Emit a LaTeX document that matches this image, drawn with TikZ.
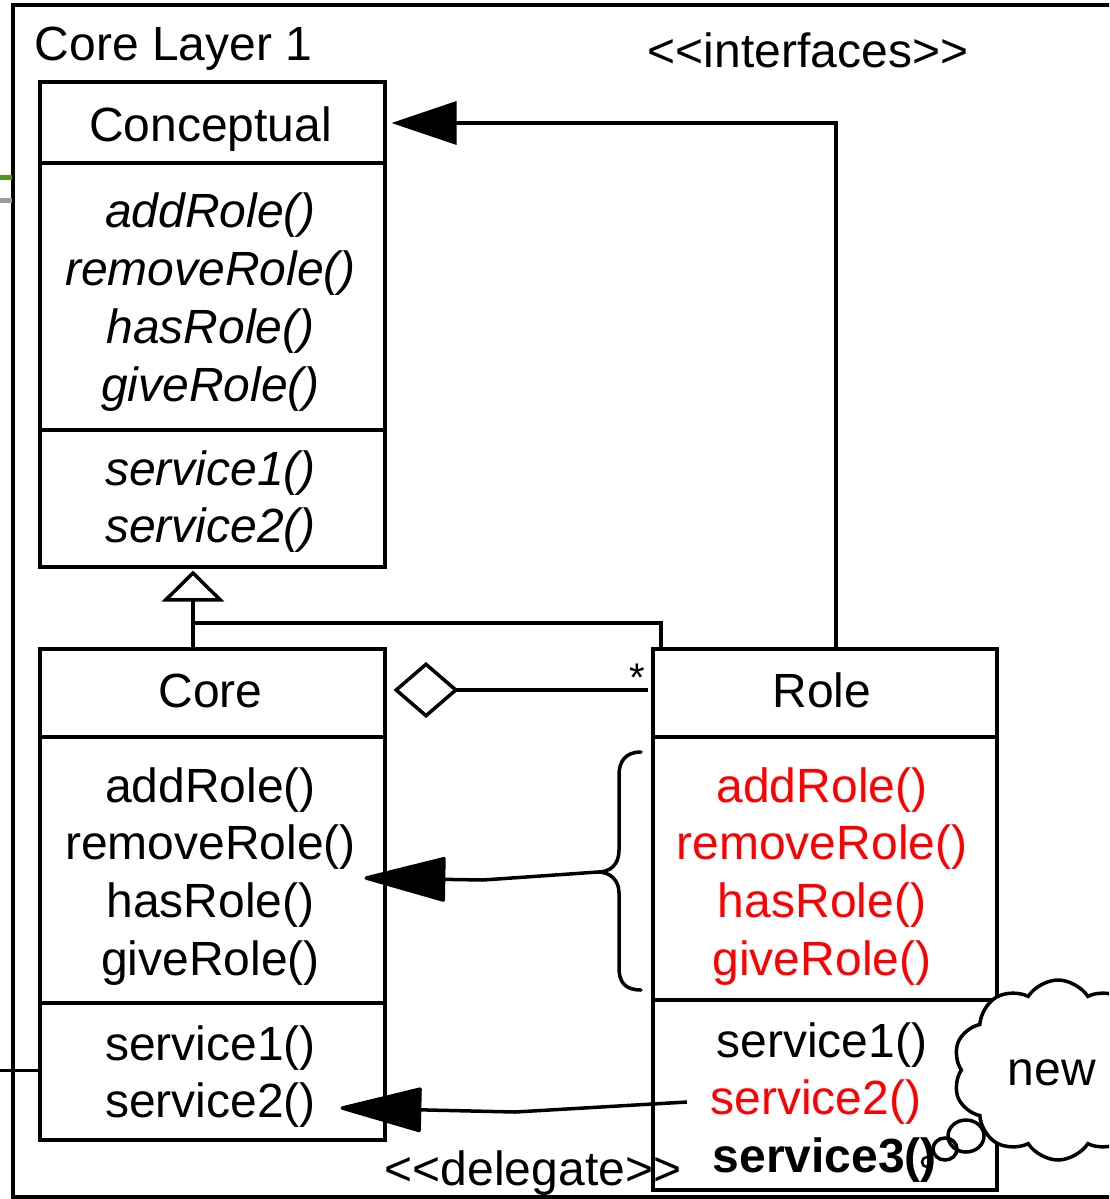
\documentclass[tikz,border=0pt]{standalone}
\usepackage{fontspec}
\setmainfont{Liberation Sans}
\usetikzlibrary{arrows.meta,shapes.symbols,calc}

\definecolor{umlred}{RGB}{255,0,0}
\definecolor{edgegreen}{RGB}{80,150,30}

\begin{document}
\begin{tikzpicture}[x=1pt,y=-1pt,line width=3.5pt,
  txt/.style={inner sep=0pt,text height=34pt,text depth=0pt,font=\fontsize{48}{56}\selectfont},
  op/.style={txt,font=\fontsize{48}{56}\selectfont\itshape},
  rop/.style={txt,text=umlred},
  classbox/.style={draw,line width=3.5pt,inner sep=0pt,anchor=north west,minimum width=345pt},
  filledhead/.style={-{Triangle[length=86pt,width=45pt,round]}},
  ifacehead/.style={-{Triangle[length=65pt,width=43pt]}},
  genhead/.style={-{Triangle[open,length=31pt,width=62pt,fill=white]}},
  agghead/.style={{Diamond[open,length=65pt,width=56pt,fill=white]}-}]
\useasboundingbox (0,0) rectangle (1109,1199);
\clip (0,0) rectangle (1109,1199);

% layer frame (open to the right)
\draw (1130,5) -- (13,5) -- (13,1197) -- (1130,1197);
\draw[edgegreen,line width=5pt] (0,177) -- (12,177);
\draw[gray!80,line width=5pt] (0,200) -- (12,200);

\node[txt,anchor=west] (layer) at (33,43) {Core Layer 1};
\node[txt] (iface) at (808,50) {<{}<interfaces>{}>};
\node[txt] (deleg) at (533,1168) {<{}<delegate>{}>};

% class boxes
\node[classbox,minimum height=485pt] (concept) at (38,80) {};
\node[classbox,minimum height=491pt] (core) at (38,647) {};
\node[classbox,minimum width=344pt,minimum height=541pt] (role) at (651,647) {};

\draw (38,163) -- (383,163);
\draw (38,430) -- (383,430);
\draw (38,737) -- (383,737);
\draw (38,1003) -- (383,1003);
\draw (651,737) -- (995,737);
\draw (651,1000) -- (995,1000);

% Conceptual
\node[txt] (cname) at (210.5,124) {Conceptual};
\node[op] (c1) at (210.5,210) {addRole()};
\node[op] (c2) at (210.5,268) {removeRole()};
\node[op] (c3) at (210.5,326) {hasRole()};
\node[op] (c4) at (210.5,384) {giveRole()};
\node[op] (c5) at (210.5,468) {service1()};
\node[op] (c6) at (210.5,525) {service2()};

% Core
\node[txt] (kname) at (210.5,690) {Core};
\node[txt] (k1) at (210.5,785) {addRole()};
\node[txt] (k2) at (210.5,842) {removeRole()};
\node[txt] (k3) at (210.5,900) {hasRole()};
\node[txt] (k4) at (210.5,958) {giveRole()};
\node[txt] (k5) at (210.5,1043) {service1()};
\node[txt] (k6) at (210.5,1100) {service2()};

% Role
\node[txt] (rname) at (822,690) {Role};
\node[rop] (r1) at (822,785) {addRole()};
\node[rop] (r2) at (822,842) {removeRole()};
\node[rop] (r3) at (822,900) {hasRole()};
\node[rop] (r4) at (822,958) {giveRole()};
\node[txt] (r5) at (822,1040) {service1()};
\node[rop] (r6) at (816,1097) {service2()};
\node[txt,anchor=west,font=\fontsize{48}{56}\selectfont\bfseries] (r7) at (711,1155) {service3()};

% generalization
\draw (core.north -| 193,0) -- (193,623);
\draw[genhead] ($(role.north west)+(10,0)$) |- (193,623) -- ($(concept.south west)+(155,2)$);

% aggregation
\draw[agghead] ($(core.north east)+(7,43)$) -- ($(role.north west)+(-3,43)$);
\node[inner sep=0pt,font=\fontsize{40}{44}\selectfont] (mult) at (637,678) {*};

% interfaces
\draw[ifacehead] ($(role.north west)+(185,0)$) |- ($(concept.north east)+(5,43)$);

% brace over role management operations
\coordinate (bt) at (598,872);
\draw[line cap=round] (641,752) .. controls (625,752) and (619,762) .. (619,775) -- (619,850)
  .. controls (619,865) and (610,872) .. (bt)
  .. controls (610,872) and (619,880) .. (619,893) -- (619,968)
  .. controls (619,982) and (625,990) .. (641,990);
\draw[filledhead] (bt) -- (483,880) -- ($(core.north east)+(-22,231)$);

% delegation
\draw[filledhead] ($(r6.west)+(-22,5)$) -- (515,1112) -- ($(core.north east)+(-46,461)$);
\draw[line width=3pt] (0,1070) -- (core.west |- 0,1070);

% thought cloud
\node[cloud,draw,fill=white,line width=3.5pt,cloud puffs=10,cloud puff arc=115,aspect=1.1,
  minimum width=210pt,minimum height=180pt] (cloud) at (1058,1070) {};
\node[txt] (new) at (1052,1068) {new};
\draw (966,1136) ellipse [x radius=18pt,y radius=16pt];
\draw (945,1149) ellipse [x radius=12pt,y radius=11pt];
\draw[line width=2.5pt] (927,1162) circle [radius=5pt];
\end{tikzpicture}
\end{document}
